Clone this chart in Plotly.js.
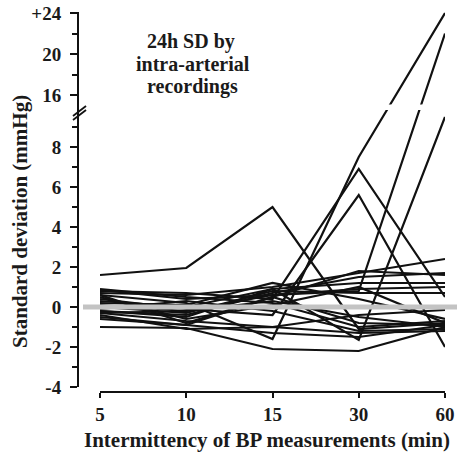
<!DOCTYPE html>
<html>
<head>
<meta charset="utf-8">
<script src="https://cdn.plot.ly/plotly-3.0.1.min.js"></script>
<style>html,body{margin:0;padding:0;background:#fff;}#chart{width:462px;height:454px;}</style>
</head>
<body>
<div id="chart"></div>
<script>
// Categories (intermittency, min)
const categories = ['5', '10', '15', '30', '60'];

// 24h SD differences per recording (mmHg)
const series01 = [1.6, 1.95, 5.0, -1.1, -0.8];
const series02 = [0.6, 0.2, -1.6, 7.5, 24];
const series03 = [0.1, -0.2, 0.6, 0.8, 22];
const series04 = [-0.2, -0.5, 0.9, -1.65, 9.5];
const series05 = [0.8, 0.7, 0.4, 6.9, 0.5];
const series06 = [0.4, -0.1, -0.4, 5.6, -2.0];
const series07 = [-1.0, -1.05, -2.1, -2.2, -1.0];
const series08 = [-0.5, -0.9, -1.3, -1.5, -0.9];
const series09 = [0.7, 0.6, 1.0, 1.7, 2.4];
const series10 = [0.3, 0.0, 0.9, 1.2, 1.2];
const series11 = [-0.2, -0.4, 0.7, 1.5, 1.7];
const series12 = [0.0, -0.3, 0.8, 0.7, 0.7];
const series13 = [-0.3, -0.7, -1.0, -0.4, -0.15];
const series14 = [0.9, 0.5, 0.2, -1.0, -0.7];
const series15 = [-0.1, 0.3, -0.2, -1.2, -1.1];
const series16 = [0.5, -0.6, 0.1, 1.0, -0.8];
const series17 = [-0.4, -1.1, -1.0, -1.3, -1.2];
const series18 = [0.2, 0.1, 1.2, 0.4, -0.6];
const series19 = [0.85, 0.4, 0.6, 0.9, 1.0];
const series20 = [-0.3, -0.2, 0.3, -0.5, -1.0];
const series21 = [0.6, -0.8, 0.5, -0.8, -0.9];
const series22 = [-0.6, -0.9, 0.5, 1.8, 1.6];

// Tick labels
const yTickValuesLower = [-4, -2, 0, 2, 4, 6, 8];
const yTickValuesUpper = [16, 20, 24];
const yTickLabelsUpper = ['16', '20', '+24'];
const yMinorLower = [-3, -1, 1, 3, 5, 7, 9];
const yMinorUpper = [18, 22];

const allSeries = [series01, series02, series03, series04, series05, series06,
  series07, series08, series09, series10, series11, series12, series13,
  series14, series15, series16, series17, series18, series19, series20,
  series21, series22];

// Broken-axis scale: lower segment linear, upper segment compressed
function brk(v) { return v <= 12 ? v : 2.34 + 0.515 * v; }

// Layout geometry helpers (pixels -> paper)
const W = 462, H = 454, ML = 78, MR = 5, MT = 12, MB = 62;
const PW = W - ML - MR, PH = H - MT - MB;
const px = p => (p - ML) / PW;
const py = p => (H - MB - p) / PH;

const idx = categories.map((c, i) => i);
const traces = allSeries.map(s => ({
  type: 'scatter', mode: 'lines',
  x: idx, y: s.map(brk),
  line: {color: '#111', width: 2.2},
  hoverinfo: 'skip', showlegend: false
}));

const font = {family: 'Liberation Serif, Times New Roman, serif', color: '#1a1a1a', weight: 'bold'};

const layout = {
  width: W, height: H,
  margin: {l: ML, r: MR, t: MT, b: MB},
  paper_bgcolor: '#fff', plot_bgcolor: 'rgba(0,0,0,0)',
  showlegend: false,
  xaxis: {
    domain: [px(100), px(445)], range: [0, 4],
    anchor: 'free', position: 0,
    showline: true, linecolor: '#111', linewidth: 2,
    ticks: 'outside', ticklen: 5, tickwidth: 2, tickcolor: '#111',
    tickmode: 'array', tickvals: idx, ticktext: categories,
    tickfont: Object.assign({size: 19}, font),
    showgrid: false, zeroline: false
  },
  yaxis: {
    domain: [py(387), 1], range: [-4, (307 - MT) / 20],
    anchor: 'free', position: 0,
    showline: true, linecolor: '#111', linewidth: 2,
    ticks: 'outside', ticklen: 7, tickwidth: 2, tickcolor: '#111',
    tickmode: 'array',
    tickvals: yTickValuesLower.concat(yTickValuesUpper.map(brk)),
    ticktext: yTickValuesLower.map(String).concat(yTickLabelsUpper),
    tickfont: Object.assign({size: 19}, font),
    ticklabelstandoff: 5,
    minor: {tickmode: 'array', tickvals: yMinorLower.concat(yMinorUpper.map(brk)),
      ticks: 'outside', ticklen: 5, tickwidth: 2, tickcolor: '#111', showgrid: false},
    showgrid: false, zeroline: false
  },
  shapes: [
    // gap in lines at the axis break
    {type: 'rect', xref: 'paper', yref: 'paper', x0: px(88), x1: px(460), y0: py(110), y1: py(104.5),
     fillcolor: '#fff', line: {width: 0}, layer: 'above'},
    // break marks on the y axis
    {type: 'line', xref: 'paper', yref: 'paper', x0: px(73), y0: py(116), x1: px(86), y1: py(106),
     line: {color: '#111', width: 1.8}, layer: 'above'},
    {type: 'line', xref: 'paper', yref: 'paper', x0: px(73), y0: py(120), x1: px(86), y1: py(110),
     line: {color: '#111', width: 1.8}, layer: 'above'},
    // zero reference line
    {type: 'line', xref: 'paper', yref: 'y', x0: px(83), x1: px(457), y0: 0, y1: 0,
     line: {color: '#c3c3c3', width: 5}, layer: 'above'}
  ],
  annotations: [
    {text: '24h SD by', xref: 'paper', yref: 'paper', x: px(191), y: py(41), showarrow: false,
     xanchor: 'center', yanchor: 'middle', font: Object.assign({size: 20}, font)},
    {text: 'intra-arterial', xref: 'paper', yref: 'paper', x: px(193), y: py(64), showarrow: false,
     xanchor: 'center', yanchor: 'middle', font: Object.assign({size: 20}, font)},
    {text: 'recordings', xref: 'paper', yref: 'paper', x: px(192), y: py(87), showarrow: false,
     xanchor: 'center', yanchor: 'middle', font: Object.assign({size: 20}, font)},
    {text: 'Standard deviation (mmHg)', xref: 'paper', yref: 'paper', x: px(20), y: py(222),
     showarrow: false, textangle: -90, xanchor: 'center', yanchor: 'middle',
     font: Object.assign({size: 21}, font)},
    {text: 'Intermittency of BP measurements (min)', xref: 'paper', yref: 'paper', x: px(267), y: py(440),
     showarrow: false, xanchor: 'center', yanchor: 'middle', font: Object.assign({size: 21}, font)}
  ]
};

Plotly.newPlot('chart', traces, layout, {displayModeBar: false, staticPlot: true});
</script>
</body>
</html>
